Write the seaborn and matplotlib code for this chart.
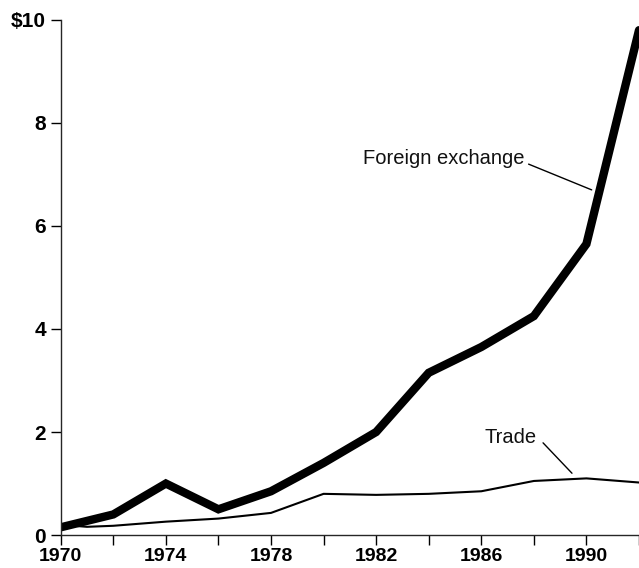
import pandas as pd
import numpy as np
import matplotlib.pyplot as plt
import seaborn as sns

# values (billions of dollars)
fx_years = [1970, 1972, 1974, 1976, 1978, 1980, 1982, 1984, 1986, 1988, 1990, 1992]
fx_values = [0.15, 0.4, 1.0, 0.5, 0.85, 1.4, 2.0, 3.15, 3.65, 4.25, 5.65, 9.8]
trade_years = [1970, 1971, 1972, 1974, 1976, 1978, 1980, 1982, 1984, 1986, 1988, 1990, 1992]
trade_values = [0.2, 0.16, 0.18, 0.26, 0.32, 0.43, 0.8, 0.78, 0.8, 0.85, 1.05, 1.1, 1.02]
x_ticks = [1970, 1974, 1978, 1982, 1986, 1990]
y_ticks = [0, 2, 4, 6, 8, 10]
y_labels = ["0", "2", "4", "6", "8", "$10"]

sns.set_theme(style="ticks")
plt.rcParams['font.family'] = ['Liberation Sans', 'DejaVu Sans']

fx = pd.DataFrame({"year": fx_years, "value": fx_values})
trade = pd.DataFrame({"year": trade_years, "value": trade_values})

fig = plt.figure(figsize=(6.39, 5.68), dpi=100)
ax = fig.add_axes([0.095, 0.058, 0.905, 0.907])

sns.lineplot(data=fx, x="year", y="value", ax=ax, color="black", linewidth=6,
             solid_joinstyle="miter")
sns.lineplot(data=trade, x="year", y="value", ax=ax, color="black", linewidth=1.5)

ax.set_xlim(1970, 1992)
ax.set_ylim(0, 10)
all_years = list(range(1970, 1993, 2))
ax.set_xticks(all_years)
ax.set_xticklabels([str(y) if y in x_ticks else "" for y in all_years],
                   fontweight="bold", fontsize=14)
ax.set_yticks(y_ticks)
ax.set_yticklabels(y_labels, fontweight="bold", fontsize=15)
ax.tick_params(axis="both", direction="out", length=7, width=1, colors="black")
ax.tick_params(axis="x", pad=2)
ax.set_xlabel("")
ax.set_ylabel("")
sns.despine(ax=ax, top=True, right=True)
ax.spines["left"].set_linewidth(1)
ax.spines["bottom"].set_linewidth(1)

# labels with leader lines
ax.text(1987.65, 7.3, "Foreign exchange", fontsize=14.5, ha="right", va="center",
        color="#111111")
ax.plot([1987.8, 1990.2], [7.2, 6.7], color="black", lw=1)
ax.text(1988.1, 1.9, "Trade", fontsize=14.5, ha="right", va="center",
        color="#111111")
ax.plot([1988.35, 1989.45], [1.79, 1.2], color="black", lw=1)

plt.savefig("out.png", dpi=100)
